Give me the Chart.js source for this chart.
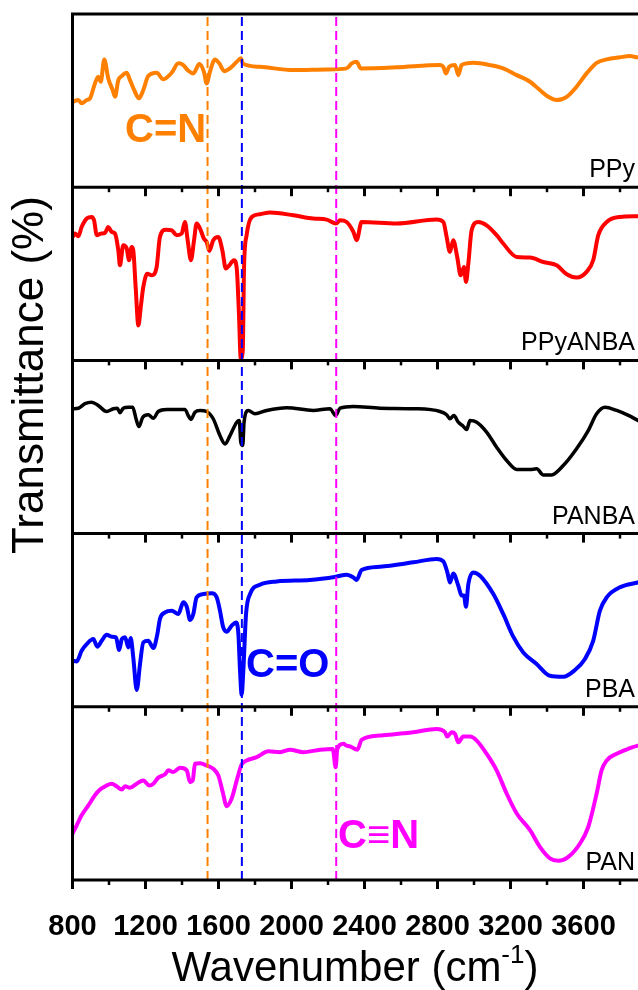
<!DOCTYPE html>
<html><head><meta charset="utf-8">
<script src="https://cdn.jsdelivr.net/npm/chart.js@4"></script>
<style>html,body{margin:0;padding:0;overflow:hidden;background:#fff;width:638px;height:990px}
#wrap{position:absolute;left:0;top:0;width:700px;height:990px}</style>
</head><body><div id="wrap"><canvas id="c" width="700" height="990"></canvas></div>
<script>
// ---------- data ----------
const seriesNames = ['PPy','PPyANBA','PANBA','PBA','PAN'];
const seriesColors = ['#FF8000','#FF0000','#000000','#0000FF','#FF00FF'];
const xTickValues = [800,1200,1600,2000,2400,2800,3200,3600];
const xTickLabels = ['800','1200','1600','2000','2400','2800','3200','3600'];
const markerWaves = [1540,1728,2245];
const markerColors = ['#FF8000','#0000FF','#FF00FF'];
const markerLabels = ['C=N','C=O','C\u2261N'];

const ppyWave = [801,832,850,878,896,923,941,955,974,996,1020,1033,1051,1070,1097,1115,1142,1164,1188,1215,1261,1297,1344,1380,1407,1431,1462,1495,1520,1535,1553,1581,1604,1632,1663,1700,1723,1733,1827,2010,2193,2302,2330,2357,2379,2576,2814,2832,2846,2864,2896,2914,2932,2996,3087,3160,3234,3307,3361,3407,3453,3508,3562,3617,3672,3727,3800,3855,3898,3960];
const ppyT = [49.3,50.3,48.4,50.3,51.3,59.9,63.8,60.9,73.8,62.8,56.1,52.2,61.8,64.2,66.1,61.8,55.1,51.3,56.1,64.2,66.1,62.3,66.1,71.5,70.5,67.6,65.7,71.1,66.6,59.9,66.6,73.8,71.5,67.0,68.6,72.4,74.4,71.5,69.5,67.6,68.0,68.6,71.5,72.4,68.6,69.2,70.5,69.5,65.7,69.5,70.5,64.7,70.5,71.8,70.5,68.6,64.7,60.9,56.1,52.2,50.3,52.2,58.0,65.7,71.8,73.8,75.0,75.7,75.0,75.5];

const ppyanbaWave = [801,814,832,850,878,905,918,933,955,978,996,1015,1033,1051,1060,1078,1097,1110,1124,1133,1146,1161,1174,1188,1210,1234,1261,1279,1312,1344,1371,1398,1416,1431,1449,1466,1480,1499,1520,1535,1550,1571,1599,1621,1640,1659,1685,1700,1712,1722,1733,1740,1754,1782,1827,1882,2010,2119,2193,2244,2266,2302,2339,2357,2384,2576,2795,2832,2850,2868,2886,2908,2927,2945,2956,2969,2987,3023,3069,3124,3160,3234,3307,3380,3453,3508,3562,3617,3653,3681,3727,3800,3898,3960];
const ppyanbaT = [71.3,73.2,71.7,77.0,81.9,82.8,80.9,72.3,73.2,73.6,77.0,74.2,73.2,63.6,54.9,66.5,64.6,57.8,65.5,63.6,42.4,20.2,30.8,42.4,50.1,49.1,53.9,71.3,75.5,75.1,72.3,73.2,79.9,69.4,57.8,69.4,79.0,76.1,70.3,68.4,63.2,69.4,71.3,63.6,53.0,54.9,57.8,53.0,27.0,1.0,5.8,53.9,72.3,82.8,84.4,85.4,83.8,81.9,81.3,79.0,80.9,79.9,74.2,69.4,79.9,79.0,81.3,79.9,71.3,62.6,69.4,59.7,49.1,53.9,45.3,55.9,75.1,79.9,78.0,72.3,67.5,59.7,59.4,56.8,54.9,49.7,47.8,51.1,57.8,72.3,79.9,82.8,83.2,83.5];

const panbaWave = [801,832,868,905,941,987,1024,1045,1060,1078,1106,1130,1148,1164,1185,1215,1243,1270,1316,1371,1416,1434,1449,1471,1499,1535,1571,1608,1636,1663,1700,1714,1722,1733,1740,1763,1800,1864,1974,2119,2211,2242,2266,2339,2485,2667,2814,2850,2868,2890,2914,2941,2960,2978,3015,3069,3124,3179,3234,3307,3343,3380,3425,3489,3562,3626,3672,3718,3782,3855,3898,3960];
const panbaT = [72.1,72.4,75.0,75.9,74.0,70.5,72.1,72.4,69.8,72.4,73.0,73.0,66.3,61.8,67.2,68.6,66.6,70.5,71.7,71.7,71.7,68.2,65.9,70.1,71.1,70.5,66.3,56.6,51.8,56.6,64.3,65.3,52.8,50.9,64.3,71.1,69.2,71.1,72.7,71.1,72.1,68.2,72.4,73.4,72.4,72.1,70.5,68.6,66.3,68.2,64.3,62.0,60.1,65.3,64.3,58.6,49.9,42.2,37.0,37.0,37.4,33.9,33.9,39.3,49.0,59.5,69.2,73.0,71.1,67.8,65.3,62.0];

const pbaWave = [801,823,850,878,914,936,960,987,1015,1038,1056,1070,1088,1106,1119,1133,1152,1170,1188,1215,1243,1265,1279,1307,1344,1380,1407,1426,1444,1462,1480,1517,1563,1590,1608,1626,1645,1672,1696,1709,1718,1727,1736,1751,1773,1827,1919,2101,2244,2302,2339,2357,2384,2485,2667,2795,2832,2854,2868,2886,2914,2932,2945,2956,2969,2996,3033,3106,3160,3215,3270,3343,3416,3489,3553,3608,3653,3690,3727,3800,3898,3960];
const pbaT = [26.6,26.2,32.4,36.2,39.1,34.7,38.1,41.6,40.5,40.1,32.8,39.1,40.1,34.3,39.7,28.5,9.7,24.7,37.2,38.1,33.9,42.0,50.7,54.5,55.5,53.6,60.3,57.8,50.1,53.6,63.2,65.1,65.5,63.2,55.5,45.8,43.4,46.8,48.7,42.0,20.8,6.9,20.8,53.6,65.1,70.5,72.4,73.2,75.1,76.3,74.7,73.2,79.0,80.9,83.4,85.4,84.0,77.6,71.8,77.0,69.9,64.2,64.2,57.8,70.9,77.6,75.7,65.1,53.6,40.5,31.4,24.7,17.9,17.3,21.2,27.6,38.1,55.5,63.2,69.0,71.8,73.5];

const panWave = [801,823,850,887,923,951,987,1015,1042,1070,1088,1115,1152,1188,1221,1243,1270,1307,1325,1352,1389,1426,1444,1459,1471,1499,1535,1571,1599,1623,1645,1672,1700,1727,1754,1809,1873,1937,1992,2065,2156,2226,2242,2251,2284,2302,2320,2348,2361,2384,2485,2667,2795,2841,2853,2878,2896,2914,2941,2978,3015,3069,3124,3179,3234,3307,3361,3416,3462,3517,3581,3626,3672,3699,3727,3782,3855,3898,3960];
const panT = [26.9,31.6,37.4,43.1,48.9,52.2,54.6,55.6,54.1,52.2,54.1,53.3,55.6,57.5,54.6,55.6,59.1,61.0,63.3,62.3,64.8,63.3,56.5,57.5,67.1,67.4,66.1,64.2,60.4,50.8,42.6,47.0,57.5,66.7,69.0,70.9,74.3,73.8,75.2,73.8,75.2,75.7,65.1,75.7,78.6,77.6,77.1,75.7,75.2,80.9,83.4,85.3,87.2,85.3,82.8,85.3,84.4,79.5,82.8,82.8,80.5,72.9,63.3,49.9,38.4,28.8,19.1,12.5,11.1,13.4,21.1,30.6,49.9,63.3,69.0,72.9,76.1,77.6,78.5];

const seriesWaves = [ppyWave, ppyanbaWave, panbaWave, pbaWave, panWave];
const seriesT = [ppyT, ppyanbaT, panbaT, pbaT, panT];

// ---------- build datasets (each spectrum stacked in its own panel) ----------
const nPanels = seriesNames.length;
const datasets = seriesNames.map((name, i) => {
  const offset = nPanels - 1 - i;
  return {
    label: name,
    data: seriesWaves[i].map((w, k) => ({x: w, y: offset + seriesT[i][k] / 100})),
    borderColor: seriesColors[i],
    borderWidth: i === 2 ? 3.5 : 4,
    cubicInterpolationMode: 'monotone',
    borderJoinStyle: 'round',
    borderCapStyle: 'round',
    pointRadius: 0,
    fill: false,
    order: 1
  };
});
markerWaves.forEach((w, i) => {
  datasets.push({
    label: markerLabels[i],
    data: [{x: w, y: 0}, {x: w, y: nPanels}],
    borderColor: markerColors[i],
    borderWidth: 2,
    borderDash: [9, 5],
    pointRadius: 0,
    fill: false,
    order: 0
  });
});

const SANS = '"Liberation Sans", Arial, Helvetica, sans-serif';

const decorPlugin = {
  id: 'decor',
  afterDraw(chart) {
    const {ctx, chartArea: a, scales: {x, y}} = chart;
    ctx.save();
    ctx.strokeStyle = '#000';
    ctx.lineCap = 'butt';
    ctx.lineWidth = 3;
    ctx.beginPath();
    ctx.moveTo(a.left, a.top - 1.5); ctx.lineTo(a.left, a.bottom + 1.5);
    ctx.moveTo(a.right, a.top - 1.5); ctx.lineTo(a.right, a.bottom + 1.5);
    for (let k = 0; k <= nPanels; k++) {
      const py = y.getPixelForValue(k);
      ctx.moveTo(a.left - 1.5, py); ctx.lineTo(a.right + 1.5, py);
    }
    ctx.stroke();
    for (let k = 0; k < nPanels; k++) {
      const py = y.getPixelForValue(k);
      for (let w = 800; w <= 4000; w += 200) {
        const px = x.getPixelForValue(w);
        const major = (w - 800) % 400 === 0;
        ctx.lineWidth = major ? 3 : 2.5;
        ctx.beginPath();
        ctx.moveTo(px, py);
        ctx.lineTo(px, py + (major ? 9 : 5));
        ctx.stroke();
      }
    }
    ctx.fillStyle = '#000';
    ctx.font = '25px ' + SANS;
    ctx.textAlign = 'right';
    ctx.textBaseline = 'alphabetic';
    seriesNames.forEach((n, i) => {
      const py = y.getPixelForValue(nPanels - 1 - i);
      ctx.fillText(n, 635, py - 10);
    });
    ctx.font = 'bold 40px ' + SANS;
    ctx.textAlign = 'left';
    const annPos = [[125, 142], [246, 677], [338, 848]];
    markerLabels.forEach((t, i) => {
      ctx.fillStyle = markerColors[i];
      ctx.fillText(t, annPos[i][0], annPos[i][1]);
    });
    ctx.fillStyle = '#000';
    ctx.save();
    ctx.translate(31, 375);
    ctx.rotate(-Math.PI / 2);
    ctx.font = '44px ' + SANS;
    ctx.textAlign = 'center';
    ctx.textBaseline = 'middle';
    ctx.fillText('Transmittance (%)', 0, 0);
    ctx.restore();
    ctx.save();
    ctx.translate(355, 981);
    ctx.textBaseline = 'alphabetic';
    ctx.textAlign = 'left';
    const big = '42px ' + SANS, small = '26px ' + SANS;
    ctx.font = big; const w1 = ctx.measureText('Wavenumber (cm').width; const w3 = ctx.measureText(')').width;
    ctx.font = small; const w2 = ctx.measureText('-1').width;
    let cx = -(w1 + w2 + w3) / 2;
    ctx.font = big; ctx.fillText('Wavenumber (cm', cx, 0); cx += w1;
    ctx.font = small; ctx.fillText('-1', cx, -18); cx += w2;
    ctx.font = big; ctx.fillText(')', cx, 0);
    ctx.restore();
    ctx.restore();
  }
};

new Chart(document.getElementById('c').getContext('2d'), {
  type: 'line',
  data: {datasets},
  options: {
    responsive: false,
    animation: false,
    devicePixelRatio: 1,
    layout: {padding: {left: 72.5, right: 43.5, top: 14, bottom: 0}},
    plugins: {legend: {display: false}, tooltip: {enabled: false}},
    scales: {
      x: {
        type: 'linear', min: 800, max: 4000,
        grid: {display: false}, border: {display: false},
        afterBuildTicks: s => { s.ticks = xTickValues.map(v => ({value: v})); },
        afterFit: s => { s.height = 110; },
        ticks: {
          autoSkip: false, maxRotation: 0, color: '#000', padding: 22,
          font: {family: SANS, size: 29, weight: 'bold'},
          callback: v => { const i = xTickValues.indexOf(v); return i >= 0 ? xTickLabels[i] : ''; }
        }
      },
      y: {display: false, min: 0, max: nPanels}
    }
  },
  plugins: [decorPlugin]
});
</script></body></html>
